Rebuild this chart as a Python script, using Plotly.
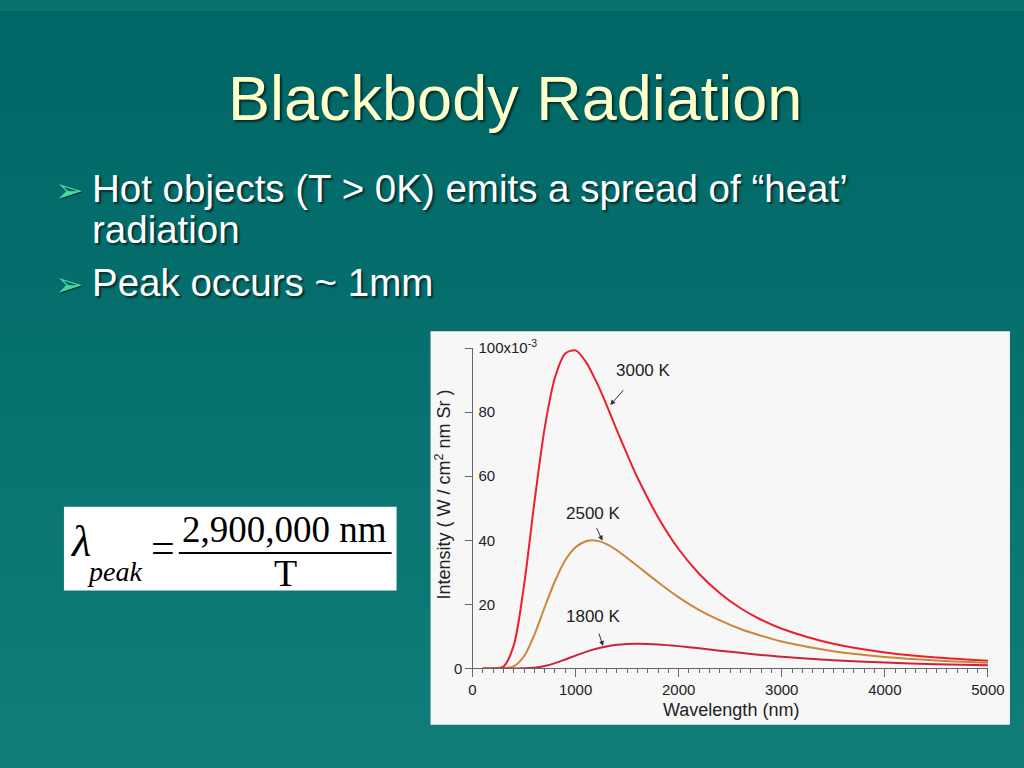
import plotly.graph_objects as go

# ---------------- data ----------------
wavelength_nm = [100, 200, 300, 400, 500, 600, 700, 800, 900, 1000, 1100, 1200, 1300,
                 1400, 1500, 1600, 1800, 2000, 2200, 2400, 2600, 2800, 3000, 3500,
                 4000, 4500, 5000]
intensity_3000K = [0, 0.01, 0.56, 7.2, 26.0, 51.7, 75.0, 90.8, 98.3, 99.3, 95.7, 89.6, 82.3,
                   74.4, 66.8, 59.6, 47.2, 37.2, 29.5, 23.5, 18.8, 15.2, 12.4, 7.7,
                   5.0, 3.4, 2.4]
intensity_2500K = [0, 0, 0.02, 0.66, 3.8, 10.5, 19.1, 27.3, 33.8, 37.8, 39.7, 39.9, 38.8,
                   36.9, 34.5, 32.0, 26.9, 22.2, 18.2, 15.0, 12.3, 10.2, 8.4, 5.4,
                   3.6, 2.5, 1.8]
intensity_1800K = [0, 0, 0, 0.003, 0.04, 0.25, 0.78, 1.66, 2.81, 4.02, 5.18, 6.14, 6.87,
                   7.37, 7.64, 7.74, 7.51, 6.97, 6.28, 5.56, 4.87, 4.23, 3.67, 2.57,
                   1.82, 1.32, 0.97]
series_names = ["3000 K", "2500 K", "1800 K"]
y_tick_values = [0, 20, 40, 60, 80, 100]
y_tick_labels = ["", "20", "40", "60", "80", "100x10<sup>-3</sup>"]
y_zero_label = "0"
x_tick_values = [0, 1000, 2000, 3000, 4000, 5000]
x_tick_labels = ["0", "1000", "2000", "3000", "4000", "5000"]
# label position (data coords) and arrow target (data coords)
label_pos = {"3000 K": (1660, 93.0), "2500 K": (1175, 48.3), "1800 K": (1175, 16.3)}
arrow_target = {"3000 K": (1330, 82.0), "2500 K": (1265, 39.6), "1800 K": (1270, 6.7)}

title_text = "Blackbody Radiation"
bullets = [
    ("Hot objects (T > 0K) emits a spread of “heat’", 180, True),
    ("radiation", 222, False),
    ("Peak occurs ~ 1mm", 275, True),
]

# figure size; the page capture is slightly wider than the slide, so horizontal
# positions (given in slide pixels) are stretched by 1/XS
W, H = 1040, 768
XS = 1024 / 1044
def px(x):
    return x / XS / W
def py(y):
    return 1 - y / H

colors = {"3000 K": "#ee1f2d", "2500 K": "#cc8638", "1800 K": "#c9243f"}
ys = {"3000 K": intensity_3000K, "2500 K": intensity_2500K, "1800 K": intensity_1800K}
sans = "Liberation Sans, Arial"
serif = "Liberation Serif, Times New Roman"

fig = go.Figure()
for name in series_names:
    fig.add_trace(go.Scatter(
        x=wavelength_nm, y=ys[name], mode="lines", name=name,
        line=dict(color=colors[name], width=2, shape="spline", smoothing=0.8),
        showlegend=False, cliponaxis=False,
    ))

shapes = []
# background gradient bands (same gradient is applied to the page behind the figure)
top = (0, 102, 102)
bot = (16, 126, 120)
n = 24
for i in range(n):
    t = i / (n - 1)
    c = tuple(int(top[k] + (bot[k] - top[k]) * t) for k in range(3))
    shapes.append(dict(type="rect", xref="paper", yref="paper",
                       x0=-0.01, x1=1.02, y0=py(H * (i + 1) / n) - 0.002,
                       y1=py(H * i / n),
                       fillcolor="rgb(%d,%d,%d)" % c, line=dict(width=0), layer="below"))
# chart panel
shapes.append(dict(type="rect", xref="paper", yref="paper",
                   x0=px(427), x1=px(1007), y0=py(724), y1=py(325),
                   fillcolor="#f7f7f7", line=dict(width=0), layer="below"))
# formula box
shapes.append(dict(type="rect", xref="paper", yref="paper",
                   x0=px(60), x1=px(393), y0=py(588), y1=py(503),
                   fillcolor="#ffffff", line=dict(width=0), layer="below"))
# fraction bar
shapes.append(dict(type="line", xref="paper", yref="paper",
                   x0=px(175), x1=px(388), y0=py(550), y1=py(550),
                   line=dict(color="#000000", width=2)))

ann = []
shadow = "2px 2px 2px rgba(0,40,40,0.9)"
ann.append(dict(text=title_text, x=px(512), y=py(88), xref="paper", yref="paper",
                showarrow=False, xanchor="center", yanchor="middle",
                font=dict(family=sans, size=63, color="#ffffcc", shadow=shadow)))
for txt, yy, has_bullet in bullets:
    ann.append(dict(text=txt, x=px(86), y=py(yy), xref="paper", yref="paper",
                    showarrow=False, xanchor="left", yanchor="middle",
                    font=dict(family=sans, size=38.5, color="#ffffff", shadow=shadow)))
    if has_bullet:
        ann.append(dict(text="➢", x=px(66), y=py(yy + 2), xref="paper", yref="paper",
                        showarrow=False, xanchor="center", yanchor="middle",
                        font=dict(family="DejaVu Sans", size=34, color="#46d8a4",
                                  shadow="1px 1px 1px rgba(0,40,40,0.9)")))

# formula
ann.append(dict(text="<i>λ</i>", x=px(77), y=py(538), xref="paper", yref="paper",
                showarrow=False, xanchor="center", yanchor="middle",
                font=dict(family=serif, size=44, color="#000")))
ann.append(dict(text="<i>peak</i>", x=px(111), y=py(569), xref="paper", yref="paper",
                showarrow=False, xanchor="center", yanchor="middle",
                font=dict(family=serif, size=28, color="#000")))
ann.append(dict(text="=", x=px(159), y=py(545), xref="paper", yref="paper",
                showarrow=False, xanchor="center", yanchor="middle",
                font=dict(family=serif, size=42, color="#000")))
ann.append(dict(text="2,900,000 nm", x=px(281), y=py(526), xref="paper", yref="paper",
                showarrow=False, xanchor="center", yanchor="middle",
                font=dict(family=serif, size=37, color="#000")))
ann.append(dict(text="T", x=px(282), y=py(570), xref="paper", yref="paper",
                showarrow=False, xanchor="center", yanchor="middle",
                font=dict(family=serif, size=38, color="#000")))

# chart labels + arrows
for name in series_names:
    lx, ly = label_pos[name]
    ann.append(dict(text=name, x=lx, y=ly, xref="x", yref="y", showarrow=False,
                    xanchor="center", yanchor="middle",
                    font=dict(family=sans, size=17, color="#222")))
off = {"3000 K": (15, -17), "2500 K": (-7, -15), "1800 K": (-5, -15)}
for name in series_names:
    tx, ty = arrow_target[name]
    ax, ay = off[name]
    ann.append(dict(text="", x=tx, y=ty, xref="x", yref="y", showarrow=True,
                    ax=ax, ay=ay, arrowhead=2, arrowsize=1, arrowwidth=1,
                    arrowcolor="#333", standoff=1))
# y zero label sits left of the axis in the original
ann.append(dict(text=y_zero_label, x=0, y=0, xref="x", yref="y", showarrow=False,
                xanchor="right", yanchor="middle", xshift=-9,
                font=dict(family=sans, size=15, color="#222")))

# y-axis title
ann.append(dict(text="Intensity ( W / cm<sup>2</sup> nm Sr )", x=px(440), y=py(491),
                xref="paper", yref="paper", showarrow=False, textangle=-90,
                xanchor="center", yanchor="middle",
                font=dict(family=sans, size=18, color="#222")))
# x-axis title
ann.append(dict(text="Wavelength (nm)", x=px(728), y=py(709), xref="paper", yref="paper",
                showarrow=False, xanchor="center", yanchor="middle",
                font=dict(family=sans, size=18, color="#222")))

fig.update_layout(
    width=W, height=H, margin=dict(l=0, r=0, t=0, b=0),
    paper_bgcolor="#0a716c", plot_bgcolor="rgba(0,0,0,0)",
    shapes=shapes, annotations=ann, showlegend=False,
    xaxis=dict(domain=[px(469), px(985)], range=[0, 5000], showgrid=False, zeroline=False,
               showline=True, linecolor="#666", linewidth=1,
               ticks="outside", ticklen=8, tickcolor="#666", tickwidth=1,
               tickvals=x_tick_values, ticktext=x_tick_labels,
               tickfont=dict(family=sans, size=15, color="#222"),
               minor=dict(ticks="outside", ticklen=4, dtick=100, tickcolor="#666",
                          showgrid=False)),
    yaxis=dict(domain=[py(667), py(342)], range=[0, 100], showgrid=False, zeroline=False,
               showline=True, linecolor="#666", linewidth=1,
               ticks="outside", ticklen=7, tickcolor="#666", tickwidth=1,
               ticklabelposition="inside", ticklabeloverflow="allow",
               ticklabelstandoff=6,
               tickvals=y_tick_values, ticktext=y_tick_labels,
               tickfont=dict(family=sans, size=15, color="#222")),
)

grad = "linear-gradient(to bottom, rgb(%d,%d,%d), rgb(%d,%d,%d))" % (top + bot)
post = """
document.documentElement.style.margin = '0';
document.body.style.margin = '0';
document.documentElement.style.minHeight = '100%';
document.documentElement.style.background = 'GRAD';
document.body.style.background = 'transparent';
document.body.style.overflow = 'hidden';
""".replace("GRAD", grad)

fig.write_html("out.html",
               config={"displayModeBar": False, "responsive": False},
               post_script=post)
